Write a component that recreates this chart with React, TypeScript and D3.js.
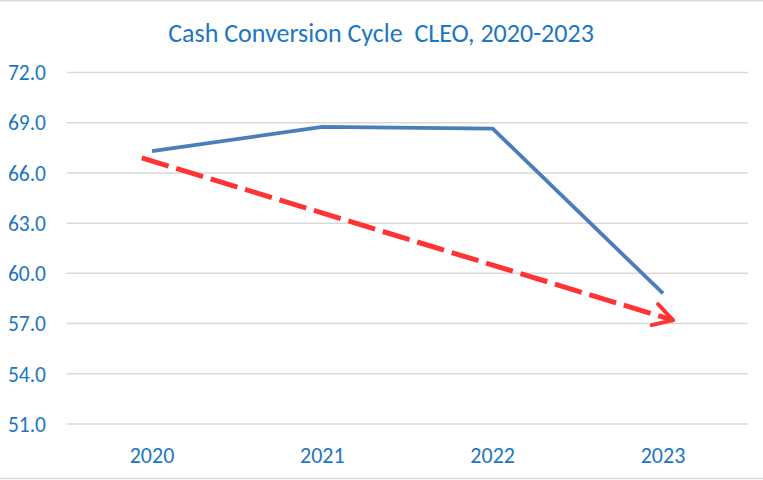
import * as d3 from 'd3';
import { useEffect, useRef } from 'react';

const years = ['2020', '2021', '2022', '2023'];
const cycleDays = [67.3, 68.75, 68.65, 58.8];
const yTicks = [51, 54, 57, 60, 63, 66, 69, 72];
// trend arrow: start / end in category-index units
const trendIdx = [-0.06, 3.06];
const trendVals = [66.9, 57.2];

const W = 763;
const H = 480;
const FONT = "Carlito, Calibri, 'Open Sans', 'Noto Sans', sans-serif";
const BLUE_TEXT = '#2176c0';

const App: React.FC = () => {
    const ref = useRef<SVGSVGElement | null>(null);

    useEffect(() => {
        const svg = d3.select(ref.current).attr('width', W).attr('height', H);
        svg.selectAll('*').remove();

        const xIdx = d3.scaleLinear().domain([0, 3]).range([152, 663]);
        const y = d3.scaleLinear().domain([51, 72]).range([424, 72.5]);

        svg.append('rect').attr('width', W).attr('height', H).attr('fill', '#fff');
        // frame lines top/bottom
        svg.append('line').attr('x1', 0).attr('x2', W).attr('y1', 0.5).attr('y2', 0.5)
            .attr('stroke', '#d9d9d9').attr('stroke-width', 2);
        svg.append('line').attr('x1', 0).attr('x2', W).attr('y1', 478.5).attr('y2', 478.5)
            .attr('stroke', '#d9d9d9').attr('stroke-width', 1.5);

        svg.append('text')
            .attr('x', 381).attr('y', 42)
            .attr('text-anchor', 'middle')
            .attr('font-family', FONT).attr('font-size', 26)
            .attr('fill', BLUE_TEXT)
            .attr('xml:space', 'preserve')
            .text('Cash Conversion Cycle  CLEO, 2020-2023');

        const grid = svg.append('g');
        grid.selectAll('line').data(yTicks).enter().append('line')
            .attr('x1', 67).attr('x2', 748)
            .attr('y1', d => y(d)).attr('y2', d => y(d))
            .attr('stroke', '#d9d9d9').attr('stroke-width', 1.5);

        svg.append('g').selectAll('text').data(yTicks).enter().append('text')
            .attr('x', 46).attr('y', d => y(d))
            .attr('dy', '0.36em')
            .attr('text-anchor', 'end')
            .attr('font-family', FONT).attr('font-size', 21.5)
            .attr('fill', BLUE_TEXT)
            .text(d => d.toFixed(1));

        svg.append('g').selectAll('text').data(years).enter().append('text')
            .attr('x', (_d, i) => xIdx(i)).attr('y', 455)
            .attr('dy', '0.36em')
            .attr('text-anchor', 'middle')
            .attr('font-family', FONT).attr('font-size', 22)
            .attr('fill', BLUE_TEXT)
            .text(d => d);

        const line = d3.line<number>()
            .x((_d, i) => xIdx(i))
            .y(d => y(d));

        svg.append('path')
            .datum(cycleDays)
            .attr('d', line)
            .attr('fill', 'none')
            .attr('stroke', '#4a7ebb')
            .attr('stroke-width', 3.8)
            .attr('stroke-linejoin', 'round');

        // red dashed trend arrow
        svg.append('defs').append('marker')
            .attr('id', 'arrow')
            .attr('viewBox', '0 0 10 10')
            .attr('refX', 8).attr('refY', 5)
            .attr('markerWidth', 5.5).attr('markerHeight', 5.5)
            .attr('markerUnits', 'strokeWidth')
            .attr('orient', 'auto')
            .append('path')
            .attr('d', 'M1,1 L8,5 L1,9')
            .attr('fill', 'none')
            .attr('stroke', '#ff3333')
            .attr('stroke-width', 1.4)
            .attr('stroke-linecap', 'round')
            .attr('stroke-linejoin', 'round');

        const trend = trendIdx.map((t, i) => [xIdx(t), y(trendVals[i])] as [number, number]);
        svg.append('path')
            .attr('d', d3.line()(trend))
            .attr('fill', 'none')
            .attr('stroke', '#ff3333')
            .attr('stroke-width', 5)
            .attr('stroke-dasharray', '28,8')
            .attr('marker-end', 'url(#arrow)');
    }, []);

    return <svg ref={ref} style={{ position: 'absolute', left: 0, top: 0, display: 'block' }} />;
};

export default App;
